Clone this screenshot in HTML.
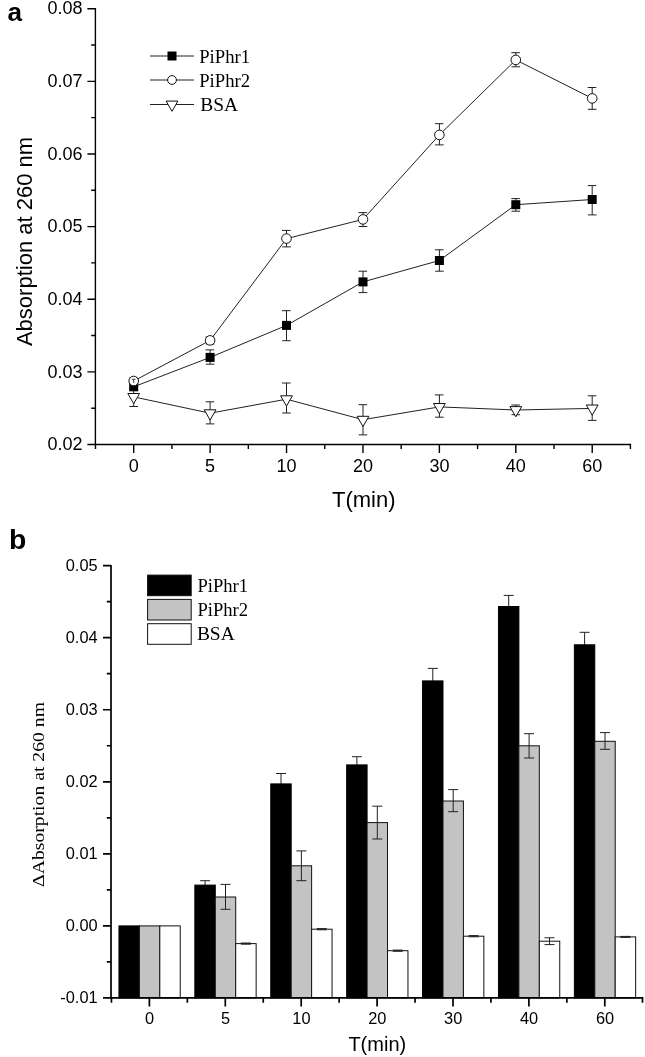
<!DOCTYPE html>
<html lang="en"><head><meta charset="utf-8"><title>Figure</title>
<style>html,body{margin:0;padding:0;background:#fff}body{width:645px;height:1057px;overflow:hidden}svg{display:block}</style>
</head><body>
<svg width="645" height="1057" viewBox="0 0 645 1057">
<rect width="645" height="1057" fill="#fff"/>
<g id="panel-a">
<text x="7.5" y="20.7" font-family="Liberation Sans, Arial, Helvetica, sans-serif" font-size="26.2" font-weight="bold" fill="#000">a</text>
<path d="M95.4 7.999999999999999V444.5H631.1" stroke="#000" stroke-width="1.4" fill="none"/>
<path d="M87.4 444.50H95.4M91.2 408.18H95.4M87.4 371.87H95.4M91.2 335.55H95.4M87.4 299.23H95.4M91.2 262.92H95.4M87.4 226.60H95.4M91.2 190.28H95.4M87.4 153.97H95.4M91.2 117.65H95.4M87.4 81.33H95.4M91.2 45.02H95.4M87.4 8.70H95.4M133.70 444.5V452.9M95.49 444.5V448.9M210.12 444.5V452.9M171.91 444.5V448.9M286.54 444.5V452.9M248.33 444.5V448.9M362.96 444.5V452.9M324.75 444.5V448.9M439.38 444.5V452.9M401.17 444.5V448.9M515.80 444.5V452.9M477.59 444.5V448.9M592.22 444.5V452.9M554.01 444.5V448.9M630.40 444.5V448.9" stroke="#000" stroke-width="1.4" fill="none"/>
<text x="82.5" y="450.1" text-anchor="end" font-family="Liberation Sans, Arial, Helvetica, sans-serif" font-size="18" fill="#000">0.02</text>
<text x="82.5" y="377.5" text-anchor="end" font-family="Liberation Sans, Arial, Helvetica, sans-serif" font-size="18" fill="#000">0.03</text>
<text x="82.5" y="304.8" text-anchor="end" font-family="Liberation Sans, Arial, Helvetica, sans-serif" font-size="18" fill="#000">0.04</text>
<text x="82.5" y="232.2" text-anchor="end" font-family="Liberation Sans, Arial, Helvetica, sans-serif" font-size="18" fill="#000">0.05</text>
<text x="82.5" y="159.6" text-anchor="end" font-family="Liberation Sans, Arial, Helvetica, sans-serif" font-size="18" fill="#000">0.06</text>
<text x="82.5" y="86.9" text-anchor="end" font-family="Liberation Sans, Arial, Helvetica, sans-serif" font-size="18" fill="#000">0.07</text>
<text x="82.5" y="14.3" text-anchor="end" font-family="Liberation Sans, Arial, Helvetica, sans-serif" font-size="18" fill="#000">0.08</text>
<text x="133.7" y="472.4" text-anchor="middle" font-family="Liberation Sans, Arial, Helvetica, sans-serif" font-size="18" fill="#000">0</text>
<text x="210.1" y="472.4" text-anchor="middle" font-family="Liberation Sans, Arial, Helvetica, sans-serif" font-size="18" fill="#000">5</text>
<text x="286.5" y="472.4" text-anchor="middle" font-family="Liberation Sans, Arial, Helvetica, sans-serif" font-size="18" fill="#000">10</text>
<text x="363.0" y="472.4" text-anchor="middle" font-family="Liberation Sans, Arial, Helvetica, sans-serif" font-size="18" fill="#000">20</text>
<text x="439.4" y="472.4" text-anchor="middle" font-family="Liberation Sans, Arial, Helvetica, sans-serif" font-size="18" fill="#000">30</text>
<text x="515.8" y="472.4" text-anchor="middle" font-family="Liberation Sans, Arial, Helvetica, sans-serif" font-size="18" fill="#000">40</text>
<text x="592.2" y="472.4" text-anchor="middle" font-family="Liberation Sans, Arial, Helvetica, sans-serif" font-size="18" fill="#000">60</text>
<text x="363.8" y="506.5" text-anchor="middle" font-family="Liberation Sans, Arial, Helvetica, sans-serif" font-size="22" fill="#000">T(min)</text>
<text transform="translate(32 241.5) rotate(-90)" text-anchor="middle" font-family="Liberation Sans, Arial, Helvetica, sans-serif" font-size="22" fill="#000">Absorption at 260 nm</text>
<polyline points="133.7,396.9 210.1,413.2 286.5,399.2 363.0,419.7 439.4,406.9 515.8,410.0 592.2,408.4" stroke="#222" stroke-width="1" fill="none"/>
<path d="M133.7 388.5V406.5M129.2 388.5h8.6M129.4 406.5h8.6M210.1 401.8V423.9M205.6 401.8h8.6M205.8 423.9h8.6M286.5 383.0V413.0M282.0 383.0h8.6M282.2 413.0h8.6M363.0 404.7V434.9M358.5 404.7h8.6M358.7 434.9h8.6M439.4 394.9V417.2M434.9 394.9h8.6M435.1 417.2h8.6M515.8 405.0V414.7M511.3 405.0h8.6M511.5 414.7h8.6M592.2 395.8V420.4M587.7 395.8h8.6M587.9 420.4h8.6" stroke="#222" stroke-width="1" fill="none"/>
<path d="M127.8 393.5h11.8l-5.9 10.2z" fill="#fff" stroke="#111" stroke-width="1"/>
<path d="M204.2 409.8h11.8l-5.9 10.2z" fill="#fff" stroke="#111" stroke-width="1"/>
<path d="M280.6 395.8h11.8l-5.9 10.2z" fill="#fff" stroke="#111" stroke-width="1"/>
<path d="M357.1 416.3h11.8l-5.9 10.2z" fill="#fff" stroke="#111" stroke-width="1"/>
<path d="M433.5 403.5h11.8l-5.9 10.2z" fill="#fff" stroke="#111" stroke-width="1"/>
<path d="M509.9 406.6h11.8l-5.9 10.2z" fill="#fff" stroke="#111" stroke-width="1"/>
<path d="M586.3 405.0h11.8l-5.9 10.2z" fill="#fff" stroke="#111" stroke-width="1"/>
<polyline points="133.7,386.8 210.1,357.4 286.5,325.4 363.0,281.9 439.4,260.5 515.8,204.7 592.2,199.5" stroke="#222" stroke-width="1" fill="none"/>
<path d="M133.7 383.5V390.5M129.2 383.5h8.6M129.4 390.5h8.6M210.1 349.9V364.2M205.6 349.9h8.6M205.8 364.2h8.6M286.5 310.7V340.7M282.0 310.7h8.6M282.2 340.7h8.6M363.0 271.2V292.6M358.5 271.2h8.6M358.7 292.6h8.6M439.4 249.8V271.2M434.9 249.8h8.6M435.1 271.2h8.6M515.8 198.6V211.2M511.3 198.6h8.6M511.5 211.2h8.6M592.2 185.6V214.9M587.7 185.6h8.6M587.9 214.9h8.6" stroke="#222" stroke-width="1" fill="none"/>
<rect x="129.2" y="382.3" width="9" height="9" fill="#000"/>
<rect x="205.6" y="352.9" width="9" height="9" fill="#000"/>
<rect x="282.0" y="320.9" width="9" height="9" fill="#000"/>
<rect x="358.5" y="277.4" width="9" height="9" fill="#000"/>
<rect x="434.9" y="256.0" width="9" height="9" fill="#000"/>
<rect x="511.3" y="200.2" width="9" height="9" fill="#000"/>
<rect x="587.7" y="195.0" width="9" height="9" fill="#000"/>
<polyline points="133.7,381.0 210.1,340.4 286.5,238.6 363.0,219.4 439.4,134.9 515.8,59.9 592.2,98.4" stroke="#222" stroke-width="1" fill="none"/>
<path d="M133.7 378.0V384.5M129.2 378.0h8.6M129.4 384.5h8.6M210.1 337.0V344.0M205.6 337.0h8.6M205.8 344.0h8.6M286.5 230.4V246.9M282.0 230.4h8.6M282.2 246.9h8.6M363.0 212.6V226.5M358.5 212.6h8.6M358.7 226.5h8.6M439.4 123.7V144.9M434.9 123.7h8.6M435.1 144.9h8.6M515.8 52.7V66.8M511.3 52.7h8.6M511.5 66.8h8.6M592.2 87.5V109.3M587.7 87.5h8.6M587.9 109.3h8.6" stroke="#222" stroke-width="1" fill="none"/>
<circle cx="133.7" cy="381.0" r="4.8" fill="#fff" stroke="#111" stroke-width="1"/>
<circle cx="210.1" cy="340.4" r="4.8" fill="#fff" stroke="#111" stroke-width="1"/>
<circle cx="286.5" cy="238.6" r="4.8" fill="#fff" stroke="#111" stroke-width="1"/>
<circle cx="363.0" cy="219.4" r="4.8" fill="#fff" stroke="#111" stroke-width="1"/>
<circle cx="439.4" cy="134.9" r="4.8" fill="#fff" stroke="#111" stroke-width="1"/>
<circle cx="515.8" cy="59.9" r="4.8" fill="#fff" stroke="#111" stroke-width="1"/>
<circle cx="592.2" cy="98.4" r="4.8" fill="#fff" stroke="#111" stroke-width="1"/>
<path d="M131.9 379.3h3.6M133.7 379.3V383" stroke="#333" stroke-width="0.9" fill="none"/>
<path d="M150 56H194" stroke="#222" stroke-width="1" fill="none"/>
<rect x="167.5" y="51.5" width="9" height="9" fill="#000"/>
<text x="199.2" y="62.6" font-family="Liberation Serif, Times New Roman, Times, serif" font-size="18.7" fill="#000">PiPhr1</text>
<path d="M150 80.0H194" stroke="#222" stroke-width="1" fill="none"/>
<circle cx="172.0" cy="80.0" r="4.4" fill="#fff" stroke="#111" stroke-width="1"/>
<text x="199.2" y="86.9" font-family="Liberation Serif, Times New Roman, Times, serif" font-size="18.7" fill="#000">PiPhr2</text>
<path d="M150 104.5H194" stroke="#222" stroke-width="1" fill="none"/>
<path d="M166.1 101.1h11.8l-5.9 10.2z" fill="#fff" stroke="#111" stroke-width="1"/>
<text x="200.2" y="110.7" font-family="Liberation Serif, Times New Roman, Times, serif" font-size="18.7" textLength="37.8" lengthAdjust="spacingAndGlyphs" fill="#000">BSA</text>
</g>
<g id="panel-b">
<text x="9.0" y="549.4" font-family="Liberation Sans, Arial, Helvetica, sans-serif" font-size="28.4" font-weight="bold" fill="#000">b</text>
<rect x="118.95" y="925.9" width="20.43" height="72.0" fill="#000" stroke="#000" stroke-width="1"/>
<rect x="139.38" y="925.9" width="20.43" height="72.0" fill="#c3c3c3" stroke="#111" stroke-width="1"/>
<rect x="159.81" y="925.9" width="20.43" height="72.0" fill="#fff" stroke="#111" stroke-width="1"/>
<path d="M205.1 885.1V880.7M200.1 880.7h10" stroke="#222" stroke-width="1" fill="none"/>
<rect x="194.85" y="885.1" width="20.43" height="112.8" fill="#000" stroke="#000" stroke-width="1"/>
<rect x="215.28" y="897.0" width="20.43" height="100.9" fill="#c3c3c3" stroke="#111" stroke-width="1"/>
<rect x="235.71" y="943.6" width="20.43" height="54.3" fill="#fff" stroke="#111" stroke-width="1"/>
<path d="M225.5 884.4V909.3M220.5 884.4h10M220.5 909.3h10" stroke="#222" stroke-width="1" fill="none"/>
<path d="M245.9 943.0V944.2M240.9 943.0h10M240.9 944.2h10" stroke="#222" stroke-width="1" fill="none"/>
<path d="M281.0 783.9V773.5M276.0 773.5h10" stroke="#222" stroke-width="1" fill="none"/>
<rect x="270.76" y="783.9" width="20.43" height="214.0" fill="#000" stroke="#000" stroke-width="1"/>
<rect x="291.19" y="865.8" width="20.43" height="132.1" fill="#c3c3c3" stroke="#111" stroke-width="1"/>
<rect x="311.62" y="929.2" width="20.43" height="68.7" fill="#fff" stroke="#111" stroke-width="1"/>
<path d="M301.4 850.9V880.7M296.4 850.9h10M296.4 880.7h10" stroke="#222" stroke-width="1" fill="none"/>
<path d="M321.8 928.6V929.8M316.8 928.6h10M316.8 929.8h10" stroke="#222" stroke-width="1" fill="none"/>
<path d="M356.9 764.9V756.7M351.9 756.7h10" stroke="#222" stroke-width="1" fill="none"/>
<rect x="346.66" y="764.9" width="20.43" height="233.0" fill="#000" stroke="#000" stroke-width="1"/>
<rect x="367.09" y="822.6" width="20.43" height="175.3" fill="#c3c3c3" stroke="#111" stroke-width="1"/>
<rect x="387.52" y="950.7" width="20.43" height="47.2" fill="#fff" stroke="#111" stroke-width="1"/>
<path d="M377.3 806.2V839.0M372.3 806.2h10M372.3 839.0h10" stroke="#222" stroke-width="1" fill="none"/>
<path d="M397.7 950.1V951.3M392.7 950.1h10M392.7 951.3h10" stroke="#222" stroke-width="1" fill="none"/>
<path d="M432.8 680.9V668.4M427.8 668.4h10" stroke="#222" stroke-width="1" fill="none"/>
<rect x="422.56" y="680.9" width="20.43" height="317.0" fill="#000" stroke="#000" stroke-width="1"/>
<rect x="442.99" y="801.0" width="20.43" height="196.9" fill="#c3c3c3" stroke="#111" stroke-width="1"/>
<rect x="463.42" y="936.2" width="20.43" height="61.7" fill="#fff" stroke="#111" stroke-width="1"/>
<path d="M453.2 789.6V811.7M448.2 789.6h10M448.2 811.7h10" stroke="#222" stroke-width="1" fill="none"/>
<path d="M473.6 935.6V936.8M468.6 935.6h10M468.6 936.8h10" stroke="#222" stroke-width="1" fill="none"/>
<path d="M508.7 606.5V595.4M503.7 595.4h10" stroke="#222" stroke-width="1" fill="none"/>
<rect x="498.46" y="606.5" width="20.43" height="391.4" fill="#000" stroke="#000" stroke-width="1"/>
<rect x="518.88" y="745.8" width="20.43" height="252.1" fill="#c3c3c3" stroke="#111" stroke-width="1"/>
<rect x="539.32" y="941.2" width="20.43" height="56.7" fill="#fff" stroke="#111" stroke-width="1"/>
<path d="M529.1 733.7V758.0M524.1 733.7h10M524.1 758.0h10" stroke="#222" stroke-width="1" fill="none"/>
<path d="M549.5 937.8V944.6M544.5 937.8h10M544.5 944.6h10" stroke="#222" stroke-width="1" fill="none"/>
<path d="M584.6 644.8V632.3M579.6 632.3h10" stroke="#222" stroke-width="1" fill="none"/>
<rect x="574.36" y="644.8" width="20.43" height="353.1" fill="#000" stroke="#000" stroke-width="1"/>
<rect x="594.79" y="741.3" width="20.43" height="256.6" fill="#c3c3c3" stroke="#111" stroke-width="1"/>
<rect x="615.22" y="936.9" width="20.43" height="61.0" fill="#fff" stroke="#111" stroke-width="1"/>
<path d="M605.0 732.6V749.3M600.0 732.6h10M600.0 749.3h10" stroke="#222" stroke-width="1" fill="none"/>
<path d="M625.4 936.4V937.4M620.4 936.4h10M620.4 937.4h10" stroke="#222" stroke-width="1" fill="none"/>
<path d="M111.0 564.90V997.9H643.3" stroke="#000" stroke-width="1.7" fill="none"/>
<path d="M103.0 997.90H111.0M106.8 961.88H111.0M103.0 925.86H111.0M106.8 889.84H111.0M103.0 853.82H111.0M106.8 817.80H111.0M103.0 781.78H111.0M106.8 745.76H111.0M103.0 709.74H111.0M106.8 673.72H111.0M103.0 637.70H111.0M106.8 601.68H111.0M103.0 565.66H111.0M149.40 997.9V1006.5M111.45 997.9V1002.6999999999999M225.30 997.9V1006.5M187.35 997.9V1002.6999999999999M301.20 997.9V1006.5M263.25 997.9V1002.6999999999999M377.10 997.9V1006.5M339.15 997.9V1002.6999999999999M453.00 997.9V1006.5M415.05 997.9V1002.6999999999999M528.90 997.9V1006.5M490.95 997.9V1002.6999999999999M604.80 997.9V1006.5M566.85 997.9V1002.6999999999999M642.50 997.9V1002.6999999999999" stroke="#000" stroke-width="1.7" fill="none"/>
<text transform="translate(97.6 1002.9) scale(1.05 1)" text-anchor="end" font-family="Liberation Sans, Arial, Helvetica, sans-serif" font-size="15.6" fill="#000">-0.01</text>
<text transform="translate(97.6 930.9) scale(1.05 1)" text-anchor="end" font-family="Liberation Sans, Arial, Helvetica, sans-serif" font-size="15.6" fill="#000">0.00</text>
<text transform="translate(97.6 858.8) scale(1.05 1)" text-anchor="end" font-family="Liberation Sans, Arial, Helvetica, sans-serif" font-size="15.6" fill="#000">0.01</text>
<text transform="translate(97.6 786.8) scale(1.05 1)" text-anchor="end" font-family="Liberation Sans, Arial, Helvetica, sans-serif" font-size="15.6" fill="#000">0.02</text>
<text transform="translate(97.6 714.7) scale(1.05 1)" text-anchor="end" font-family="Liberation Sans, Arial, Helvetica, sans-serif" font-size="15.6" fill="#000">0.03</text>
<text transform="translate(97.6 642.7) scale(1.05 1)" text-anchor="end" font-family="Liberation Sans, Arial, Helvetica, sans-serif" font-size="15.6" fill="#000">0.04</text>
<text transform="translate(97.6 570.7) scale(1.05 1)" text-anchor="end" font-family="Liberation Sans, Arial, Helvetica, sans-serif" font-size="15.6" fill="#000">0.05</text>
<text transform="translate(149.6 1024.2) scale(1.05 1)" text-anchor="middle" font-family="Liberation Sans, Arial, Helvetica, sans-serif" font-size="15.6" fill="#000">0</text>
<text transform="translate(225.5 1024.2) scale(1.05 1)" text-anchor="middle" font-family="Liberation Sans, Arial, Helvetica, sans-serif" font-size="15.6" fill="#000">5</text>
<text transform="translate(301.4 1024.2) scale(1.05 1)" text-anchor="middle" font-family="Liberation Sans, Arial, Helvetica, sans-serif" font-size="15.6" fill="#000">10</text>
<text transform="translate(377.3 1024.2) scale(1.05 1)" text-anchor="middle" font-family="Liberation Sans, Arial, Helvetica, sans-serif" font-size="15.6" fill="#000">20</text>
<text transform="translate(453.2 1024.2) scale(1.05 1)" text-anchor="middle" font-family="Liberation Sans, Arial, Helvetica, sans-serif" font-size="15.6" fill="#000">30</text>
<text transform="translate(529.1 1024.2) scale(1.05 1)" text-anchor="middle" font-family="Liberation Sans, Arial, Helvetica, sans-serif" font-size="15.6" fill="#000">40</text>
<text transform="translate(605.0 1024.2) scale(1.05 1)" text-anchor="middle" font-family="Liberation Sans, Arial, Helvetica, sans-serif" font-size="15.6" fill="#000">60</text>
<text x="377.3" y="1051.2" text-anchor="middle" font-family="Liberation Sans, Arial, Helvetica, sans-serif" font-size="20" fill="#000">T(min)</text>
<text transform="translate(44.1 887) rotate(-90)" font-family="Liberation Serif, Times New Roman, Times, serif" font-size="17.6" textLength="185" lengthAdjust="spacingAndGlyphs" fill="#000">ΔAbsorption at 260 nm</text>
<rect x="147.6" y="575.0999999999999" width="43.6" height="20.6" fill="#000" stroke="#111" stroke-width="1"/>
<text x="197.4" y="592.1" font-family="Liberation Serif, Times New Roman, Times, serif" font-size="18.6" fill="#000">PiPhr1</text>
<rect x="147.6" y="599.4" width="43.6" height="20.6" fill="#c3c3c3" stroke="#111" stroke-width="1"/>
<text x="197.4" y="616.0" font-family="Liberation Serif, Times New Roman, Times, serif" font-size="18.6" fill="#000">PiPhr2</text>
<rect x="147.6" y="623.6999999999999" width="43.6" height="20.6" fill="#fff" stroke="#111" stroke-width="1"/>
<text x="196.9" y="639.9" font-family="Liberation Serif, Times New Roman, Times, serif" font-size="18.7" textLength="37.8" lengthAdjust="spacingAndGlyphs" fill="#000">BSA</text>
</g>
</svg>
</body></html>
